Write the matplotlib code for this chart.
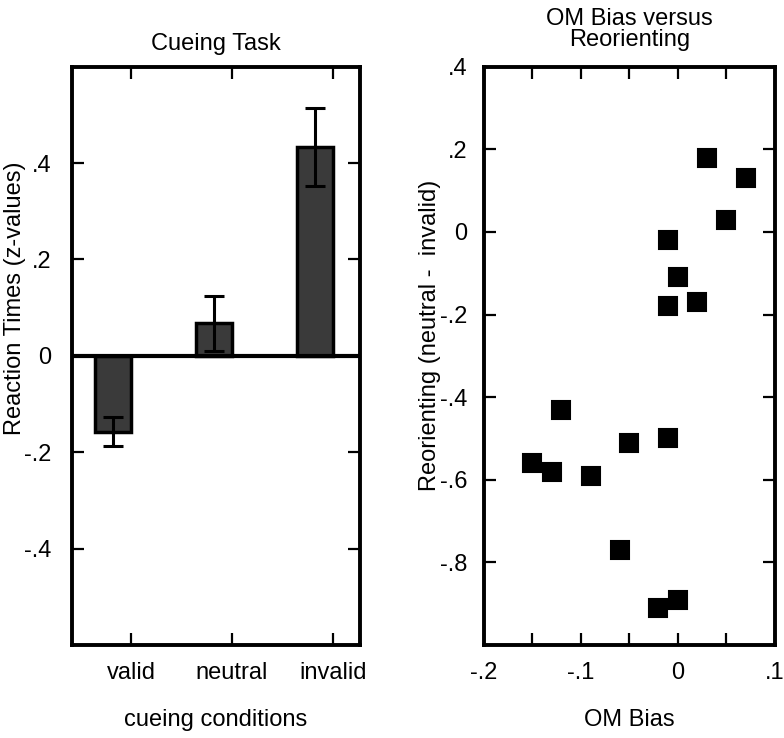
import matplotlib
matplotlib.use("Agg")
import matplotlib.pyplot as plt

plt.rcParams['font.family'] = ['Liberation Sans', 'DejaVu Sans']

# cueing task data
conditions = ['valid', 'neutral', 'invalid']
rt_means = [-0.157, 0.068, 0.434]
rt_errs = [0.031, 0.057, 0.081]

# OM bias vs reorienting
om_bias = [0.03, 0.07, 0.05, -0.01, 0.0, -0.01, 0.02, -0.12, -0.15, -0.13,
           -0.09, -0.05, -0.01, -0.06, -0.02, 0.0]
reorienting = [0.18, 0.13, 0.03, -0.02, -0.11, -0.18, -0.17, -0.43, -0.56, -0.58,
               -0.59, -0.51, -0.50, -0.77, -0.91, -0.89]

fig = plt.figure(figsize=(7.84, 7.38), dpi=100)
ax1 = fig.add_axes([0.0918, 0.126, 0.3672, 0.7836])
ax2 = fig.add_axes([0.617, 0.126, 0.3715, 0.7836])

fs = 17

def style(ax, ypad):
    for sp in ax.spines.values():
        sp.set_linewidth(2.8)
    ax.tick_params(direction='in', length=8.5, width=1.6, labelsize=fs,
                   top=True, right=True)
    ax.tick_params(axis='x', pad=12)
    ax.tick_params(axis='y', pad=ypad)

# left: bar chart
pos = [1, 2, 3]
bar_x = [p - 0.18 for p in pos]
ax1.bar(bar_x, rt_means, width=0.36, color='#3a3a3a', edgecolor='black', linewidth=2.5, zorder=2)
ax1.errorbar(bar_x, rt_means, yerr=rt_errs, fmt='none', ecolor='black',
             elinewidth=2.2, capsize=7, capthick=2.2, zorder=3)
ax1.axhline(0, color='black', linewidth=3, zorder=4)
ax1.set_xlim(0.416, 3.267)
ax1.set_ylim(-0.6, 0.6)
ax1.set_xticks(pos)
ax1.set_xticklabels(conditions)
ax1.set_yticks([-0.4, -0.2, 0, 0.2, 0.4])
ax1.set_yticklabels(['-.4', '-.2', '0', '.2', '.4'])
style(ax1, 15)
ax1.set_title('Cueing Task', fontsize=fs, pad=12)
ax1.set_xlabel('cueing conditions', fontsize=fs, labelpad=18)
ax1.set_ylabel('Reaction Times (z-values)', fontsize=fs)
ax1.yaxis.set_label_coords(-0.158, 0.6)

# right: scatter
ax2.plot(om_bias, reorienting, linestyle='none', marker='s', markersize=13,
         color='black', markeredgewidth=1.5, markeredgecolor='black', zorder=3)
for ln in ax2.lines:
    ln.set_solid_joinstyle('round')
ax2.set_xlim(-0.2, 0.1)
ax2.set_ylim(-1.0, 0.4)
xt = [-0.2, -0.15, -0.1, -0.05, 0, 0.05, 0.1]
ax2.set_xticks(xt)
ax2.set_xticklabels(['-.2', '', '-.1', '', '0', '', '.1'])
yt = [-0.8, -0.6, -0.4, -0.2, 0, 0.2, 0.4]
ax2.set_yticks(yt)
ax2.set_yticklabels(['-.8', '-.6', '-.4', '-.2', '0', '.2', '.4'])
style(ax2, 12)
ax2.set_title('OM Bias versus\nReorienting', fontsize=fs, pad=15, linespacing=0.95)
ax2.set_xlabel('OM Bias', fontsize=fs, labelpad=18)
ax2.set_ylabel('Reorienting (neutral -  invalid)', fontsize=fs)
ax2.yaxis.set_label_coords(-0.148, 0.535)

fig.savefig('out.png', dpi=100)
